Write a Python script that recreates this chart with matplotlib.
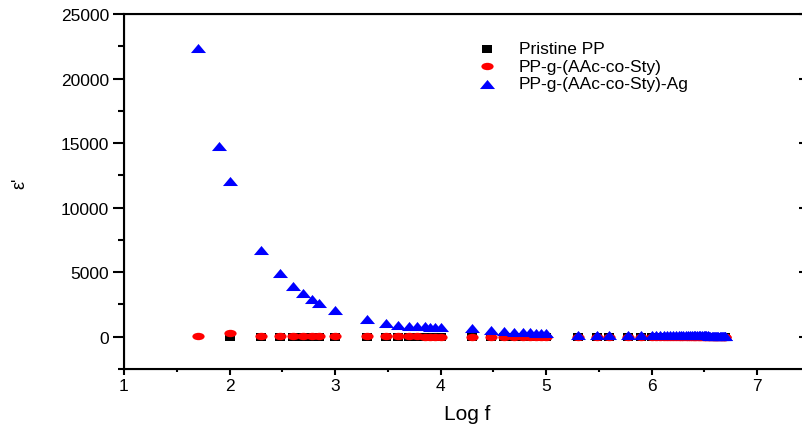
import matplotlib
matplotlib.use("Agg")
import matplotlib.pyplot as plt
from matplotlib.path import Path
from matplotlib.ticker import MultipleLocator
import numpy as np

plt.rcParams['font.family'] = ['Liberation Sans', 'DejaVu Sans']

# --- data (log f, dielectric constant) ---
logf_common = [2.00, 2.30, 2.48, 2.60, 2.70, 2.78, 2.85, 3.00,
               3.30, 3.48, 3.60, 3.70, 3.78, 3.85, 3.90, 3.95, 4.00,
               4.30, 4.48, 4.60, 4.70, 4.78, 4.85, 4.90, 4.95, 5.00,
               5.30, 5.48, 5.60, 5.78, 5.90,
               6.000, 6.041, 6.079, 6.114, 6.146, 6.176, 6.204, 6.230, 6.255, 6.279,
               6.301, 6.322, 6.342, 6.362, 6.380, 6.398, 6.415, 6.431, 6.447, 6.462,
               6.477, 6.491, 6.505, 6.519, 6.531, 6.544, 6.556, 6.568, 6.580, 6.591,
               6.602, 6.613, 6.623, 6.633, 6.643, 6.653, 6.663, 6.672, 6.681, 6.690, 6.699]

logf_pp = logf_common
logf_sty = [1.70] + logf_common
logf_ag = [1.70, 1.90] + logf_common

eps_pp = [5, 4, 4, 4, 4, 3, 3, 3,
          3, 3, 3, 3, 3, 3, 3, 3, 3,
          3, 3, 3, 3, 3, 3, 3, 3, 3,
          3, 3, 3, 3, 3,
          3, 3, 3, 3, 3, 3, 3, 3, 3, 3,
          3, 3, 3, 3, 3, 3, 3, 3, 3, 3,
          3, 3, 3, 3, 3, 3, 3, 3, 3, 3,
          3, 3, 3, 3, 3, 3, 3, 3, 3, 3, 3]

eps_sty = [20,
           300, 40, 35, 30, 30, 28, 26, 25,
           22, 20, 20, 18, 18, 17, 17, 16, 16,
           15, 14, 13, 12, 12, 11, 11, 10, 10,
           9, 9, 8, 8, 8,
           -20, -20, -20, -20, -20, -20, -20, -20, -20, -20,
           -20, -20, -20, -20, -20, -20, -20, -20, -20, -20,
           -20, -20, -20, -20, -20, -20, -20, -20, -20, -20,
           -20, -20, -20, -20, -20, -20, -20, -20, -20, -20, -20]

eps_ag = [22400, 14800,
          12100, 6700, 4950, 3950, 3400, 2950, 2650, 2100,
          1400, 1100, 900, 850, 830, 810, 790, 770, 750,
          670, 520, 430, 390, 360, 340, 320, 300, 290,
          160, 150, 130, 120, 110,
          120, 118, 116, 115, 114, 113, 112, 111, 110, 110,
          109, 108, 107, 106, 105, 104, 103, 102, 101, 100,
          100, 99, 98, 97, 96, 95, 94, 93, 92, 91,
          90, 90, 89, 88, 87, 86, 85, 84, 83, 82, 80]

labels = ["Pristine PP", "PP-g-(AAc-co-Sty)", "PP-g-(AAc-co-Sty)-Ag"]

# the source image is squashed vertically, so the markers are flattened too
tri = Path([(-1, -0.6), (1, -0.6), (0, 0.6), (-1, -0.6)],
           [Path.MOVETO, Path.LINETO, Path.LINETO, Path.CLOSEPOLY])
circ = Path(Path.unit_circle().vertices * [1, 0.6], Path.unit_circle().codes)
sq = Path([(-1, -0.7), (1, -0.7), (1, 0.7), (-1, 0.7), (-1, -0.7)],
          [Path.MOVETO, Path.LINETO, Path.LINETO, Path.LINETO, Path.CLOSEPOLY])

fig = plt.figure(figsize=(8.03, 4.27), dpi=100)
ax = fig.add_axes([124 / 803, 57 / 427, (810 - 124) / 803, (370 - 15) / 427])

ax.scatter(logf_pp, eps_pp, marker=sq, s=62, color='black', linewidths=0, label=labels[0])
ax.scatter(logf_sty, eps_sty, marker=circ, s=78, color='#ff0000', linewidths=0, label=labels[1])
ax.scatter(logf_ag, eps_ag, marker=tri, s=118, color='#0000ff', linewidths=0, label=labels[2])

ax.set_xlim(1, 7.5)
ax.set_ylim(-2500, 25000)
ax.xaxis.set_major_locator(MultipleLocator(1))
ax.xaxis.set_minor_locator(MultipleLocator(0.5))
ax.yaxis.set_major_locator(MultipleLocator(5000))
ax.yaxis.set_minor_locator(MultipleLocator(2500))

for sp in ax.spines.values():
    sp.set_linewidth(1.5)

ax.tick_params(axis='y', which='major', direction='out', length=7.7, width=1.5, labelsize=12.5, pad=3)
ax.tick_params(axis='y', which='minor', direction='out', length=4, width=1.5)
ax.tick_params(axis='x', which='major', direction='out', length=4.3, width=1.5, labelsize=12.5, pad=2)
ax.tick_params(axis='x', which='minor', direction='out', length=2.5, width=1.5)

# right side ticks point inward
ax2 = ax.twinx()
ax2.set_ylim(ax.get_ylim())
ax2.yaxis.set_major_locator(MultipleLocator(5000))
ax2.tick_params(axis='y', direction='in', length=7.7, width=1.5, labelright=False)
ax2.spines['right'].set_linewidth(1.5)

ax.set_xlabel("Log f", fontsize=15, labelpad=8)
fig.text(20 / 803, 1 - 183 / 427, "ε'", rotation=90, fontsize=13, ha='center', va='center')

fig.legend(*ax.get_legend_handles_labels(), loc='upper left',
           bbox_to_anchor=(477 / 803, 1 - 42 / 427), frameon=False, fontsize=12.5,
           scatterpoints=1, handlelength=1.2, handletextpad=1.2, labelspacing=0.14,
           borderpad=0, borderaxespad=0)

fig.savefig("out.png", dpi=100)
